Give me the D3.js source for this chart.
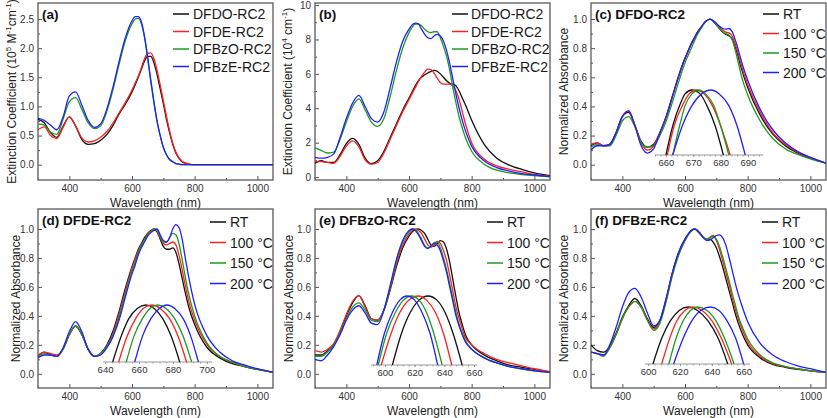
<!DOCTYPE html>
<html><head><meta charset="utf-8">
<script src="https://cdn.jsdelivr.net/npm/d3@7"></script>
<style>body{margin:0;background:#fff}svg{display:block;font-family:"Liberation Sans",Arial,sans-serif}</style>
</head><body><script>
// shared wavelength grid (nm)
const wl = [300,320,340,360,380,400,420,440,460,480,500,520,540,560,580,
            600,610,620,630,640,650,660,670,680,690,700,710,720,730,740,750,760,770,780,
            800,840,880,920,960,1000,1050];

// (a) extinction coefficient, 10^5 M^-1 cm^-1
const aDFDO  = [.78,.72,.55,.47,.66,.82,.66,.43,.35,.36,.42,.52,.68,.88,1.05, 1.25,1.37,1.50,1.64,1.78,1.86,1.86,1.75,1.55,1.30,1.05,.78,.55,.35,.20,.11,.05,.025,.01, 0,0,0,0,0,0,0];
const aDFDE  = [.60,.65,.50,.45,.64,.82,.67,.46,.39,.41,.47,.57,.72,.90,1.08, 1.28,1.40,1.52,1.67,1.82,1.91,1.92,1.82,1.62,1.37,1.10,.83,.58,.37,.22,.12,.06,.03,.015, 0,0,0,0,0,0,0];
const aDFBzO = [.70,.68,.56,.52,.78,1.08,1.15,.95,.72,.62,.67,.92,1.30,1.75,2.15, 2.42,2.50,2.51,2.42,2.18,1.82,1.42,1.06,.74,.50,.30,.17,.09,.05,.02,.01,0,0,0, 0,0,0,0,0,0,0];
const aDFBzE = [.80,.76,.68,.60,.82,1.18,1.25,1.02,.76,.64,.70,.96,1.35,1.80,2.20, 2.47,2.54,2.54,2.45,2.20,1.85,1.45,1.08,.75,.50,.30,.17,.09,.05,.02,.01,0,0,0, 0,0,0,0,0,0,0];

// (b) film absorption coefficient, 10^4 cm^-1
const bDFDO  = [.80,.95,.85,.85,1.30,1.95,2.25,1.90,1.10,.78,.95,1.50,2.30,3.10,3.90, 4.60,4.95,5.30,5.60,5.80,5.95,6.05,6.15,6.20,6.15,6.00,5.80,5.60,5.45,5.40,5.30,5.00,4.60,4.20, 3.30,1.90,1.10,.70,.45,.25,.08];
const bDFDE  = [.90,.90,.85,.80,1.20,1.80,2.10,1.75,1.00,.75,.85,1.40,2.20,3.00,3.80, 4.50,4.85,5.20,5.55,5.85,6.10,6.28,6.25,6.05,5.75,5.50,5.40,5.40,5.40,5.30,5.00,4.50,3.80,3.10, 2.00,1.05,.65,.45,.30,.15,.04];
const bDFBzO = [1.70,1.55,1.40,1.45,2.20,3.20,4.10,4.55,3.90,3.20,2.95,3.40,4.70,6.20,7.50, 8.40,8.70,8.90,8.90,8.80,8.60,8.45,8.40,8.45,8.45,8.10,7.60,7.00,6.20,5.20,4.30,3.50,2.85,2.30, 1.50,.75,.40,.25,.15,.08,.02];
const bDFBzE = [1.15,1.10,1.15,1.35,2.30,3.40,4.30,4.75,4.10,3.40,3.20,3.80,5.20,6.70,7.90, 8.60,8.85,8.95,8.90,8.60,8.30,8.10,8.05,8.20,8.30,8.20,7.90,7.35,6.60,5.70,4.80,4.00,3.30,2.70, 1.80,.95,.55,.35,.20,.12,.03];

// (c) DFDO-RC2 normalized absorbance
const cRT  = [.13,.15,.13,.14,.22,.33,.36,.27,.16,.12,.14,.22,.33,.47,.61, .73,.78,.83,.87,.91,.94,.97,.99,1.0,.985,.96,.935,.91,.895,.885,.865,.81,.74,.66, .53,.34,.21,.13,.08,.045,.01];
const c100 = [.14,.15,.13,.14,.22,.33,.37,.27,.15,.10,.13,.22,.33,.47,.61, .73,.78,.83,.87,.91,.94,.97,.99,1.0,.99,.97,.945,.925,.91,.905,.885,.83,.76,.68, .55,.36,.22,.14,.085,.05,.01];
const c150 = [.12,.14,.13,.13,.20,.30,.33,.26,.15,.12,.13,.20,.30,.43,.57, .70,.75,.80,.85,.895,.93,.965,.99,1.0,.985,.96,.935,.915,.90,.89,.86,.79,.70,.61, .48,.30,.18,.11,.07,.04,.01];
const c200 = [.10,.13,.13,.14,.22,.33,.37,.27,.13,.08,.11,.22,.33,.47,.61, .73,.78,.83,.87,.91,.94,.97,.99,1.0,.99,.97,.95,.935,.93,.935,.915,.86,.79,.71, .58,.38,.24,.15,.09,.05,.01];

// (d) DFDE-RC2
const dRT  = [.12,.15,.13,.12,.17,.27,.33,.27,.17,.12,.14,.20,.30,.44,.60, .74,.80,.86,.90,.94,.97,.99,1.0,.98,.93,.88,.86,.86,.87,.84,.76,.66,.56,.47, .34,.18,.11,.07,.05,.03,.01];
const d100 = [.13,.15,.14,.13,.17,.27,.33,.27,.17,.12,.14,.19,.28,.42,.58, .73,.79,.85,.89,.93,.965,.985,1.0,.985,.94,.90,.89,.90,.91,.89,.82,.72,.61,.51, .37,.20,.12,.08,.05,.03,.01];
const d150 = [.12,.14,.13,.12,.17,.27,.33,.27,.17,.12,.14,.19,.27,.40,.56, .71,.77,.84,.885,.925,.96,.98,1.0,.99,.95,.91,.91,.94,.97,.96,.90,.79,.67,.56, .40,.21,.12,.08,.05,.03,.01];
const d200 = [.11,.13,.13,.12,.18,.29,.36,.29,.17,.12,.13,.18,.26,.38,.54, .69,.75,.82,.87,.91,.95,.975,.99,1.0,.96,.92,.91,.94,1.0,1.03,1.01,.93,.80,.68, .48,.26,.15,.09,.06,.035,.01];

// (e) DFBzO-RC2
const eRT  = [.13,.13,.16,.20,.29,.40,.49,.54,.47,.38,.37,.44,.58,.74,.87, .95,.98,.995,1.0,.99,.97,.93,.89,.88,.90,.92,.91,.86,.77,.65,.53,.42,.34,.27, .20,.13,.09,.06,.045,.03,.01];
const e100 = [.16,.15,.17,.21,.30,.41,.50,.54,.46,.38,.37,.44,.59,.76,.89, .965,.99,1.0,.99,.97,.93,.89,.875,.89,.915,.90,.85,.78,.68,.57,.46,.38,.31,.25, .20,.14,.10,.075,.055,.035,.015];
const e150 = [.12,.12,.15,.20,.28,.38,.46,.49,.44,.37,.36,.44,.60,.78,.91, .98,1.0,.995,.97,.93,.885,.87,.88,.905,.91,.87,.80,.72,.62,.52,.42,.34,.28,.23, .17,.11,.075,.05,.035,.02,.01];
const e200 = [.10,.09,.13,.19,.27,.37,.44,.47,.42,.35,.34,.44,.61,.79,.92, .99,1.0,.99,.96,.92,.88,.865,.88,.90,.89,.85,.78,.70,.60,.50,.40,.33,.27,.22, .17,.11,.075,.05,.035,.02,.01];

// (f) DFBzE-RC2
const fRT  = [.20,.16,.15,.19,.28,.39,.47,.52,.47,.38,.32,.37,.52,.70,.84, .93,.965,.99,1.0,.985,.96,.94,.93,.93,.91,.87,.81,.74,.66,.58,.50,.42,.35,.29, .20,.11,.065,.045,.03,.02,.01];
const f100 = [.15,.14,.13,.18,.27,.38,.46,.50,.46,.37,.31,.36,.51,.69,.83, .92,.96,.985,1.0,.99,.965,.94,.93,.945,.955,.92,.86,.78,.70,.62,.53,.45,.38,.32, .22,.12,.07,.05,.035,.02,.01];
const f150 = [.15,.14,.12,.18,.27,.38,.46,.50,.46,.37,.30,.35,.50,.68,.82, .92,.96,.985,1.0,.99,.965,.94,.93,.94,.95,.93,.88,.81,.73,.65,.56,.48,.40,.34, .24,.13,.075,.05,.035,.02,.01];
const f200 = [.15,.14,.13,.20,.32,.46,.56,.59,.53,.42,.33,.37,.52,.70,.84, .93,.965,.99,1.0,.99,.965,.935,.92,.925,.94,.955,.96,.94,.89,.81,.72,.63,.55,.48, .36,.21,.13,.085,.055,.035,.01];

// inset peak close-ups: [wavelength nm, relative height above inset axis]
const insC_RT  = [[660,0],[662.5,.45],[665,.76],[667,.94],[669.5,1],[672.5,.94],[675,.76],[678,.45],[681,0]];
const insC_100 = [[660.5,0],[663,.45],[666,.76],[668.5,.94],[671,1],[674,.94],[677,.76],[680,.45],[683.5,0]];
const insC_150 = [[662.5,0],[665,.45],[667,.76],[669.5,.94],[672,1],[674.5,.94],[677.5,.76],[680,.45],[683,0]];
const insC_200 = [[662.5,0],[666,.45],[669.5,.76],[673,.94],[676.5,1],[679.5,.94],[683,.76],[686,.45],[689,0]];
const insD_RT  = [[644.5,0],[649.5,.45],[654,.76],[659,.94],[664,1],[669,.94],[674,.76],[679,.45],[684,0]];
const insD_100 = [[648,0],[653,.45],[658,.76],[662.5,.94],[667.5,1],[672.5,.94],[678,.76],[683,.45],[688,0]];
const insD_150 = [[652.5,0],[657,.45],[662,.76],[666.5,.94],[671,1],[676,.94],[681,.76],[686,.45],[691,0]];
const insD_200 = [[657.5,0],[662,.45],[667,.76],[672,.94],[676.5,1],[681,.94],[686,.76],[690.5,.45],[695,0]];
const insE_RT  = [[605,0],[611,.45],[617,.76],[623,.94],[629,1],[635,.94],[640.5,.76],[646,.45],[652,0]];
const insE_100 = [[597.5,0],[604,.45],[610,.76],[616,.94],[622.5,1],[628,.94],[634,.76],[639.5,.45],[645,0]];
const insE_150 = [[595.5,0],[601,.45],[607,.76],[612.5,.94],[618,1],[623,.94],[628,.76],[633,.45],[638.5,0]];
const insE_200 = [[594.5,0],[599.5,.45],[605,.76],[610,.94],[615,1],[620,.94],[625,.76],[630.5,.45],[635.5,0]];
const insF_RT  = [[603,0],[608.5,.45],[614,.76],[619.5,.94],[625,1],[631,.94],[637.5,.76],[644,.45],[650,0]];
const insF_100 = [[608.5,0],[613.5,.45],[618,.76],[623,.94],[628,1],[634,.94],[640,.76],[646,.45],[652.5,0]];
const insF_150 = [[613,0],[617.5,.45],[622,.76],[626.5,.94],[631,1],[637,.94],[642.5,.76],[648,.45],[654,0]];
const insF_200 = [[616,0],[622,.45],[627.5,.76],[633,.94],[639,1],[644.5,.94],[649.5,.76],[655,.45],[660,0]];

// tick labels
const xTicks = [400,600,800,1000];
const xMinor = [300,500,700,900];
const yTicksA = [0,0.5,1,1.5,2,2.5];
const yTicksB = [0,2,4,6,8,10];
const yTicksN = [0,0.2,0.4,0.6,0.8,1.0];
const insTicksC = [660,670,680,690];
const insTicksD = [640,660,680,700];
const insTicksE = [600,620,640,660];
const insTicksF = [600,620,640,660];

const namesAB = ['DFDO-RC2','DFDE-RC2','DFBzO-RC2','DFBzE-RC2'];
const namesT = ['RT','100 °C','150 °C','200 °C'];
const colors = ['#111111','#ff2020','#1e9a1e','#2020ff'];

const W=827,H=418;
const svg = d3.select('body').append('svg').attr('width',W).attr('height',H);

const titleA = [['Extinction Coefficient (10',0],['5',1],[' M',0],['-1',1],['cm',0],['-1',1],[')',0]];
const titleB = [['Extinction Coefficient (10',0],['4',1],[' cm',0],['-1',1],[')',0]];
const titleN = [['Normalized Absorbance',0]];

const top1=[3,180], top2=[209,388];
const panels = [
 {label:'(a)', x:[38,273], y:top1, yd:[-0.2625,2.775], yt:yTicksA, ym:[0.25,0.75,1.25,1.75,2.25], fmt:d3.format('.1f'),
  data:[aDFDO,aDFDE,aDFBzO,aDFBzE], names:namesAB, leg:[173,193,14,17.5], title:titleA, tx:12},
 {label:'(b)', x:[315,550], y:top1, yd:[-0.17,10.12], yt:yTicksB, ym:[1,3,5,7,9], fmt:d3.format('d'),
  data:[bDFDO,bDFDE,bDFBzO,bDFBzE], names:namesAB, leg:[452,471,14,17.5], title:titleB, tx:288},
 {label:'(c) DFDO-RC2', x:[591,826], y:top1, yd:[-0.105,1.11], yt:yTicksN, ym:[0.1,0.3,0.5,0.7,0.9], fmt:d3.format('.1f'),
  data:[cRT,c100,c150,c200], names:namesT, leg:[763,783,14,19.5], title:titleN, tx:564,
  ins:{nm:[656,695.5], px:[655,763], yb:155, yp:90, ticks:insTicksC, minor:2, data:[insC_RT,insC_100,insC_150,insC_200]}},
 {label:'(d) DFDE-RC2', x:[38,273], y:top2, yd:[-0.098,1.138], yt:yTicksN, ym:[0.1,0.3,0.5,0.7,0.9], fmt:d3.format('.1f'),
  data:[dRT,d100,d150,d200], names:namesT, leg:[210,230,222,20.5], title:titleN, tx:16,
  ins:{nm:[638.8,703], px:[103,212], yb:362, yp:305, ticks:insTicksD, minor:4, data:[insD_RT,insD_100,insD_150,insD_200]}},
 {label:'(e) DFBzO-RC2', x:[315,550], y:top2, yd:[-0.098,1.138], yt:yTicksN, ym:[0.1,0.3,0.5,0.7,0.9], fmt:d3.format('.1f'),
  data:[eRT,e100,e150,e200], names:namesT, leg:[487,507,222,20.5], title:titleN, tx:289,
  ins:{nm:[590.6,662], px:[371,477], yb:365, yp:296, ticks:insTicksE, minor:4, data:[insE_RT,insE_100,insE_150,insE_200]}},
 {label:'(f) DFBzE-RC2', x:[591,826], y:top2, yd:[-0.098,1.138], yt:yTicksN, ym:[0.1,0.3,0.5,0.7,0.9], fmt:d3.format('.1f'),
  data:[fRT,f100,f150,f200], names:namesT, leg:[762,782,222,20.5], title:titleN, tx:564,
  ins:{nm:[598,664], px:[645,750], yb:364, yp:307, ticks:insTicksF, minor:4, data:[insF_RT,insF_100,insF_150,insF_200]}}
];

const FONT='"Liberation Sans",Arial,sans-serif';
const defs = svg.append('defs');
panels.forEach((p,i)=>{
  const x = d3.scaleLinear().domain([300,1050]).range(p.x);
  const y = d3.scaleLinear().domain(p.yd).range([p.y[1],p.y[0]]);
  const g = svg.append('g');
  defs.append('clipPath').attr('id','clip'+i).append('rect')
    .attr('x',p.x[0]).attr('y',p.y[0]).attr('width',p.x[1]-p.x[0]).attr('height',p.y[1]-p.y[0]);

  // axes (inward ticks)
  g.append('g').attr('transform',`translate(0,${p.y[1]})`)
    .call(d3.axisBottom(x).tickValues(xTicks).tickSize(-4).tickPadding(5).tickFormat(d3.format('d')));
  g.append('g').attr('transform',`translate(0,${p.y[1]})`)
    .call(d3.axisBottom(x).tickValues(xMinor).tickSize(-2).tickFormat(''));
  g.append('g').attr('transform',`translate(${p.x[0]},0)`)
    .call(d3.axisLeft(y).tickValues(p.yt).tickSize(-4).tickPadding(4).tickFormat(p.fmt));
  g.append('g').attr('transform',`translate(${p.x[0]},0)`)
    .call(d3.axisLeft(y).tickValues(p.ym).tickSize(-2).tickFormat(''));
  g.selectAll('.domain').remove();
  g.selectAll('.tick line').attr('stroke','#555');
  g.selectAll('.tick text').attr('font-size',10).attr('fill','#333').attr('font-family',FONT);

  // frame
  g.append('rect').attr('x',p.x[0]).attr('y',p.y[0]).attr('width',p.x[1]-p.x[0]).attr('height',p.y[1]-p.y[0])
    .attr('fill','none').attr('stroke','#666').attr('stroke-width',1.4);

  // main curves
  const line = d3.line().x(d=>x(d[0])).y(d=>y(d[1])).curve(d3.curveMonotoneX);
  const cg = g.append('g').attr('clip-path',`url(#clip${i})`);
  p.data.forEach((s,k)=>{
    cg.append('path').datum(wl.map((w,j)=>[w,s[j]])).attr('d',line)
      .attr('fill','none').attr('stroke',colors[k]).attr('stroke-width',1.3);
  });

  // inset
  if(p.ins){
    const I=p.ins;
    const xi = d3.scaleLinear().domain(I.nm).range(I.px);
    const yi = d3.scaleLinear().domain([0,1]).range([I.yb,I.yp]);
    const ig = g.append('g');
    const minorT = d3.range(Math.ceil(I.nm[0]/I.minor)*I.minor, I.nm[1], I.minor);
    ig.append('line').attr('x1',I.px[0]).attr('x2',I.px[1]).attr('y1',I.yb).attr('y2',I.yb).attr('stroke','#999').attr('stroke-width',1);
    ig.append('g').attr('transform',`translate(0,${I.yb})`)
      .call(d3.axisBottom(xi).tickValues(I.ticks).tickSize(2).tickPadding(2).tickFormat(d3.format('d')));
    ig.append('g').attr('transform',`translate(0,${I.yb})`)
      .call(d3.axisBottom(xi).tickValues(minorT).tickSize(1.5).tickFormat(''));
    ig.selectAll('.domain').remove();
    ig.selectAll('.tick line').attr('stroke','#999');
    ig.selectAll('.tick text').attr('font-size',9.5).attr('fill','#333').attr('font-family',FONT);
    const il = d3.line().x(d=>xi(d[0])).y(d=>yi(d[1])).curve(d3.curveMonotoneX);
    I.data.forEach((s,k)=>{
      ig.append('path').datum(s).attr('d',il).attr('fill','none').attr('stroke',colors[k]).attr('stroke-width',1.3);
    });
  }

  // legend
  const [lx,tx,ly,ldy]=p.leg;
  p.names.forEach((n,k)=>{
    const yy = ly + k*ldy;
    g.append('line').attr('x1',lx).attr('x2',lx+16).attr('y1',yy).attr('y2',yy).attr('stroke',colors[k]).attr('stroke-width',1.5);
    g.append('text').attr('x',tx).attr('y',yy+5).attr('font-size',14).attr('fill','#1a1a1a').text(n);
  });

  // panel label
  g.append('text').attr('x',p.x[0]+4).attr('y',p.y[0]+16).attr('font-size',13.5).attr('font-weight','bold').attr('fill','#111').text(p.label);

  // axis titles
  g.append('text').attr('x',(p.x[0]+p.x[1])/2).attr('y',p.y[1]+26.5).attr('text-anchor','middle')
    .attr('font-size',12).attr('fill','#222').text('Wavelength (nm)');
  const yt = g.append('text').attr('transform',`translate(${p.tx},${(p.y[0]+p.y[1])/2}) rotate(-90)`)
    .attr('text-anchor','middle').attr('font-size',12).attr('fill','#222').attr('dy','0.35em');
  let prevSup=false;
  p.title.forEach(([t,sup])=>{
    const ts = yt.append('tspan').text(t);
    if(sup){ ts.attr('font-size',8).attr('dy', prevSup?0:-5); }
    else if(prevSup){ ts.attr('dy',5); }
    prevSup = !!sup;
  });
});
</script></body></html>
